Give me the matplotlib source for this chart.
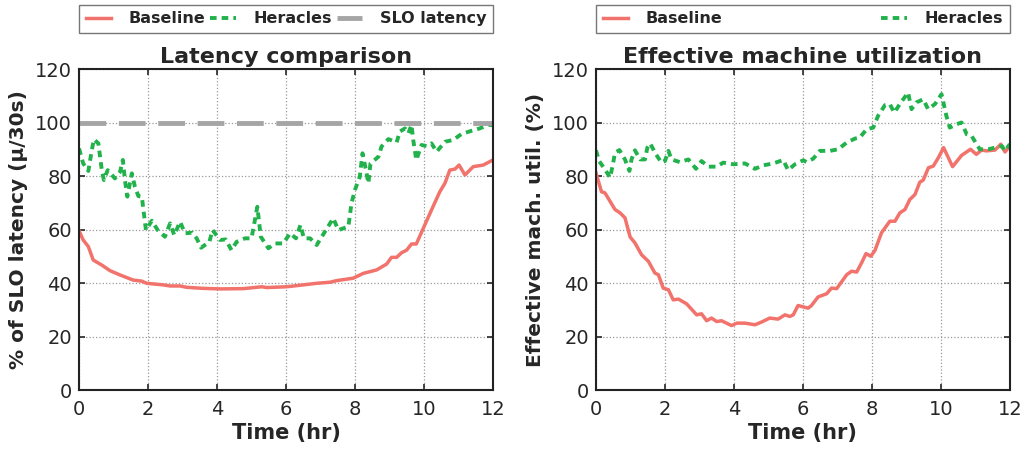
import matplotlib
matplotlib.use("Agg")
import matplotlib.pyplot as plt

# ---------------- data ----------------
lat_base_t = [0.0, 0.12, 0.27, 0.41, 0.66, 0.90, 1.19, 1.57, 1.82, 1.96, 2.44, 2.64, 2.93, 3.12,
              3.60, 4.09, 4.76, 5.30, 5.44, 6.02, 6.50, 6.89, 7.28, 7.47, 7.95, 8.24, 8.63, 8.92,
              9.06, 9.21, 9.35, 9.50, 9.64, 9.78, 9.98, 10.22, 10.46, 10.61, 10.75, 10.90, 11.02,
              11.19, 11.43, 11.72, 12.0]
lat_base_v = [59.5, 56.1, 53.6, 48.6, 46.7, 44.6, 43.0, 41.1, 40.7, 39.9, 39.3, 38.9, 38.9, 38.4,
              38.0, 37.8, 37.9, 38.6, 38.3, 38.6, 39.3, 39.9, 40.3, 40.9, 41.8, 43.6, 44.9, 47.1,
              49.6, 49.6, 51.3, 52.3, 54.6, 54.6, 60.4, 67.3, 74.1, 77.3, 82.2, 82.6, 84.1,
              80.4, 83.5, 84.1, 86.0]

lat_her_t = [0.0, 0.12, 0.27, 0.37, 0.43, 0.56, 0.66, 0.72, 0.83, 1.04, 1.19, 1.27, 1.33, 1.40,
             1.53, 1.62, 1.72, 1.82, 1.88, 1.94, 2.11, 2.28, 2.49, 2.64, 2.76, 2.93, 3.07, 3.28,
             3.41, 3.54, 3.78, 3.87, 4.09, 4.25, 4.42, 4.57, 4.81, 5.00, 5.10, 5.17, 5.27, 5.49,
             5.68, 5.92, 6.12, 6.29, 6.42, 6.52, 6.70, 6.89, 7.13, 7.37, 7.52, 7.81, 7.90, 8.00,
             8.14, 8.22, 8.32, 8.39, 8.45, 8.68, 8.77, 8.97, 9.21, 9.30, 9.45, 9.55, 9.64, 9.69,
             9.78, 9.93, 10.08, 10.22, 10.37, 10.61, 10.85, 11.09, 11.38, 11.62, 11.86, 12.0]
lat_her_v = [90.3, 84.7, 81.9, 89.7, 93.7, 92.2, 82.2, 78.5, 82.2, 79.1, 81.6, 86.0, 78.5, 72.3,
             81.0, 76.0, 72.5, 72.3, 66.0, 59.8, 63.3, 59.8, 57.3, 62.3, 57.9, 62.9, 58.6, 58.8,
             56.7, 53.2, 55.4, 59.8, 56.1, 56.3, 52.3, 55.4, 56.7, 56.7, 63.6, 68.5, 57.3, 53.0,
             54.8, 54.8, 58.6, 56.7, 61.7, 56.7, 56.7, 54.2, 59.2, 64.2, 59.8, 61.1, 69.8, 74.8,
             79.7, 88.5, 82.2, 77.3, 84.7, 87.2, 91.0, 93.8, 92.6, 96.6, 97.8, 96.0, 99.1, 93.5,
             86.0, 91.6, 91.2, 92.2, 89.1, 92.8, 93.5, 95.7, 96.9, 97.8, 99.1, 99.0]

slo_t = [0.0, 12.0]
slo_v = [100.0, 100.0]

util_base_t = [0.0, 0.16, 0.26, 0.55, 0.70, 0.84, 0.99, 1.13, 1.32, 1.52, 1.71, 1.81, 1.95, 2.10,
               2.24, 2.39, 2.63, 2.92, 3.06, 3.21, 3.35, 3.50, 3.64, 3.93, 4.08, 4.32, 4.61, 4.80,
               5.04, 5.28, 5.48, 5.62, 5.72, 5.86, 6.15, 6.25, 6.44, 6.69, 6.83, 6.98, 7.27, 7.41,
               7.56, 7.70, 7.83, 7.97, 8.09, 8.28, 8.52, 8.67, 8.81, 8.96, 9.10, 9.25, 9.39, 9.49,
               9.64, 9.78, 9.93, 10.08, 10.34, 10.60, 10.86, 11.03, 11.18, 11.32, 11.57, 11.74,
               11.86, 12.0]
util_base_v = [81.2, 74.1, 73.7, 67.5, 66.2, 64.4, 57.2, 55.0, 50.6, 48.1, 43.7, 43.1, 38.1, 37.5,
               33.7, 34.0, 32.2, 28.1, 28.5, 25.9, 26.9, 25.6, 25.9, 24.1, 25.0, 25.0, 24.4, 25.4,
               26.9, 26.5, 28.1, 27.5, 28.1, 31.6, 30.6, 31.6, 34.8, 36.0, 38.1, 37.9, 43.1, 44.4,
               44.1, 47.5, 51.0, 50.0, 52.2, 58.8, 63.1, 63.1, 66.2, 67.5, 71.2, 73.1, 77.7, 78.5,
               83.1, 83.7, 86.9, 90.6, 83.5, 87.7, 90.0, 88.1, 89.7, 89.4, 89.7, 91.9, 89.0, 91.2]

util_her_t = [0.0, 0.09, 0.26, 0.41, 0.50, 0.55, 0.68, 0.84, 0.97, 1.03, 1.13, 1.28, 1.42, 1.49,
              1.57, 1.74, 1.90, 2.00, 2.10, 2.19, 2.43, 2.68, 2.90, 3.06, 3.26, 3.50, 3.69, 3.98,
              4.32, 4.61, 4.85, 5.14, 5.43, 5.57, 5.77, 6.01, 6.11, 6.30, 6.49, 6.78, 7.02, 7.27,
              7.51, 7.65, 7.85, 8.04, 8.18, 8.38, 8.52, 8.65, 8.81, 9.05, 9.15, 9.29, 9.49, 9.63,
              9.83, 10.02, 10.16, 10.26, 10.46, 10.60, 10.75, 10.89, 11.13, 11.37, 11.57, 11.77,
              11.86, 12.0]
util_her_v = [89.6, 85.6, 82.5, 79.4, 85.0, 88.7, 89.7, 86.2, 81.9, 86.2, 89.6, 86.2, 86.2, 90.6,
              92.2, 88.1, 85.0, 85.6, 89.4, 86.2, 85.2, 86.2, 82.7, 85.6, 83.5, 83.5, 85.0, 84.4,
              84.7, 82.7, 84.0, 84.7, 86.0, 82.2, 84.4, 85.9, 85.2, 86.5, 89.4, 89.4, 90.0, 92.5,
              94.0, 94.4, 97.5, 98.1, 102.5, 106.5, 106.9, 103.7, 106.9, 111.2, 105.0, 107.5, 108.7,
              105.0, 106.9, 110.6, 102.5, 98.1, 99.4, 100.0, 95.6, 95.0, 90.0, 90.0, 90.6, 91.2,
              89.4, 91.9]

xticks = [0, 2, 4, 6, 8, 10, 12]
yticks = [0, 20, 40, 60, 80, 100, 120]

# ---------------- style ----------------
RED = "#F2726C"
GREEN = "#22B24C"
GRAY = "#A5A5A5"
TXT = "#262626"

plt.rcParams['font.family'] = ['DejaVu Sans']
plt.rcParams['text.color'] = TXT
plt.rcParams['axes.labelcolor'] = TXT
plt.rcParams['xtick.color'] = TXT
plt.rcParams['ytick.color'] = TXT

fig = plt.figure(figsize=(10.32, 4.5), dpi=100)
ax1 = fig.add_axes([0.0766, 0.1333, 0.401, 0.7133])
ax2 = fig.add_axes([0.5775, 0.1333, 0.401, 0.7133])


def style(ax):
    ax.set_xlim(0, 12)
    ax.set_ylim(0, 120)
    ax.set_xticks(xticks)
    ax.set_yticks(yticks)
    ax.tick_params(direction='in', top=True, right=True, labelsize=14, length=4, width=1.2)
    ax.tick_params(axis='x', pad=7)
    ax.tick_params(axis='y', pad=5)
    ax.grid(True, linestyle=':', color='#999999', linewidth=0.9)
    for s in ax.spines.values():
        s.set_linewidth(1.5)
        s.set_color('#222222')
    ax.set_xlabel('Time (hr)', fontsize=15, fontweight='bold', labelpad=3)


def legend(ax, ncol):
    leg = ax.legend(loc='lower left', bbox_to_anchor=(0, 1.112, 1, 0.087), mode='expand', ncol=ncol,
                    borderaxespad=0, fancybox=False, edgecolor='#555555',
                    prop={'weight': 'bold', 'size': 11.5},
                    handlelength=1.6, handletextpad=1.1, columnspacing=0.8, borderpad=0.42)
    leg.get_frame().set_linewidth(1.0)
    return leg


ax1.plot(lat_base_t, lat_base_v, color=RED, lw=2.5, label='Baseline')
ax1.plot(lat_her_t, lat_her_v, color=GREEN, lw=2.8, dashes=(1.7, 1.3), label='Heracles')
ax1.plot(slo_t, slo_v, color=GRAY, lw=3.5, dashes=(5.5, 2.6), label='SLO latency')
style(ax1)
ax1.set_title('Latency comparison', fontsize=16, fontweight='bold', pad=4)
ax1.set_ylabel('% of SLO latency (\u03bc/30s)', fontsize=14.5, fontweight='bold', labelpad=5)
legend(ax1, 3)

ax2.plot(util_base_t, util_base_v, color=RED, lw=2.5, label='Baseline')
ax2.plot(util_her_t, util_her_v, color=GREEN, lw=2.8, dashes=(1.7, 1.3), label='Heracles')
style(ax2)
ax2.set_title('Effective machine utilization', fontsize=16, fontweight='bold', pad=4)
ax2.set_ylabel('Effective mach. util. (%)', fontsize=14.5, fontweight='bold', labelpad=5)
legend(ax2, 2)

fig.savefig('out.png', dpi=100)
